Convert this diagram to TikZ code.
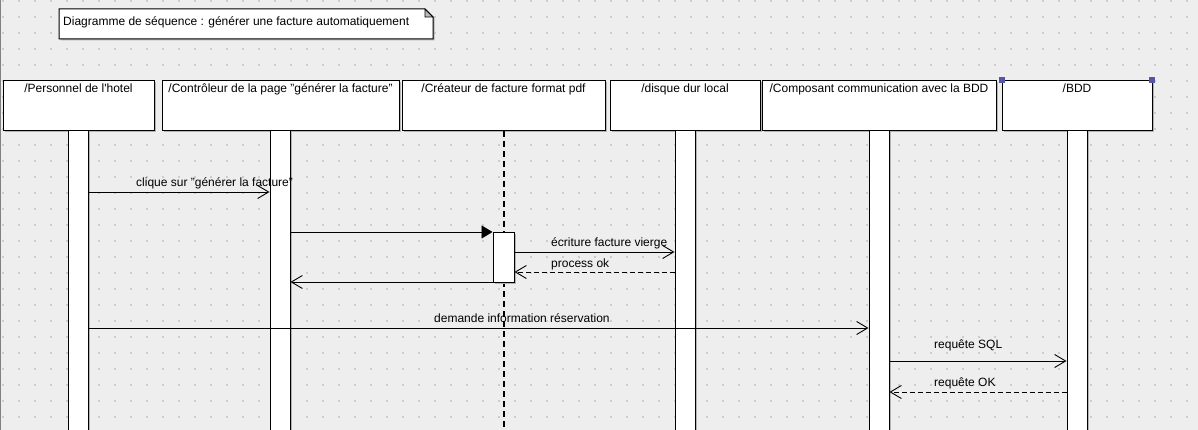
\documentclass[tikz,border=0pt]{standalone}
\usepackage{fontspec}
\setmainfont{Liberation Sans}
\usetikzlibrary{arrows.meta,shadows}
\definecolor{bg}{HTML}{EEEEEE}
\definecolor{dotc}{HTML}{CCCCCC}
\definecolor{handle}{HTML}{5656A8}
\definecolor{foldc}{HTML}{BBBBBB}
\definecolor{shadc}{HTML}{B4B4B4}
\begin{document}
\begin{tikzpicture}[x=1pt,y=-1pt,
  font=\fontsize{12}{14}\selectfont,
  shad/.style={drop shadow={shadow xshift=1.5pt,shadow yshift=-1.5pt,fill=shadc,opacity=1}},
  head/.style={draw,fill=white,line width=1pt,inner sep=0pt,minimum height=50pt,anchor=north west,shad},
  bar/.style={draw,fill=white,line width=1pt,inner sep=0pt,minimum width=20pt,minimum height=304pt,anchor=north,shad},
  act/.style={draw,fill=white,line width=1pt,inner sep=0pt,minimum width=21pt,minimum height=50pt,anchor=north,shad},
  htext/.style={anchor=base,inner sep=0pt},
  lbl/.style={anchor=base west,inner sep=0pt},
  msg/.style={line width=0.9pt,-{Straight Barb[length=11pt,width=13pt,line width=0.9pt]}},
  ret/.style={msg,dash pattern=on 5pt off 3pt},
  sync/.style={line width=0.9pt,-{Triangle[length=11pt,width=13pt]}},
  lifedash/.style={line width=1.3pt,dash pattern=on 6pt off 4pt}
]
% background
\fill[bg] (0,0) rectangle (1198,430);
\useasboundingbox (0,0) rectangle (1198,430);
\foreach \gx in {3,19,...,1198}{
  \foreach \gy in {1,17,...,430}{
    \fill[dotc] (\gx-1,\gy-1) rectangle (\gx+1,\gy+1);
  }
}
\draw[gray,line width=1pt] (0.5,0) -- (0.5,430);

% note
\draw[fill=white,line width=1pt,shad] (59,9) -- (425,9) -- (433,17) -- (433,39) -- (59,39) -- cycle;
\filldraw[fill=foldc,draw=black,line width=0.6pt] (425,9) -- (425,17) -- (433,17) -- cycle;
\draw[line width=1pt] (425,9) -- (433,17);
\node[lbl] (note) at (63,26) {Diagramme de séquence : générer une facture automatiquement};

\coordinate (bottom) at (0,434);

% lifeline heads
\node[head,minimum width=151pt] (h1) at (3,80) {};
\node[head,minimum width=237pt] (h2) at (162,80) {};
\node[head,minimum width=203pt] (h3) at (402,80) {};
\node[head,minimum width=150pt] (h4) at (610,80) {};
\node[head,minimum width=234pt] (h5) at (762,80) {};
\node[head,minimum width=150pt] (h6) at (1002,80) {};

\node[htext] (t1) at (78.5,93) {/Personnel de l\textquotesingle hotel};
\node[htext] (t2) at (280.5,93) {/Contrôleur de la page "générer la facture"};
\node[htext] (t3) at (503.5,93) {/Créateur de facture format pdf};
\node[htext] (t4) at (685,93) {/disque dur local};
\node[htext] (t5) at (879,93) {/Composant communication avec la BDD};
\node[htext] (t6) at (1077,93) {/BDD};

% selection handles
\fill[handle] (999,77) rectangle (1005,83);
\fill[handle] (1149,77) rectangle (1155,83);

% lifelines
\node[bar] (b1) at (78,130) {};
\node[bar] (b2) at (280,130) {};
\draw[lifedash] (h3.south) -- (h3.south |- bottom);
\node[bar] (b4) at (685,130) {};
\node[bar] (b5) at (879,130) {};
\node[bar] (b6) at (1077,130) {};
\node[act] (a3) at (503.5,232) {};

% message levels
\coordinate (y1) at (0,192);
\coordinate (y2) at (0,232);
\coordinate (y3) at (0,252);
\coordinate (y4) at (0,272);
\coordinate (y5) at (0,282);
\coordinate (y6) at (0,328);
\coordinate (y7) at (0,361);
\coordinate (y8) at (0,392);

\draw[msg] (b1.east |- y1) -- (b2.west |- y1);
\node[lbl] (l1) at (136,187) {clique sur "générer la facture"};

\draw[sync] (b2.east |- y2) -- (a3.west |- y2);

\draw[msg] (a3.east |- y3) -- (b4.west |- y3);
\node[lbl] (l3) at (551,247) {écriture facture vierge};

\draw[ret] (b4.west |- y4) -- (a3.east |- y4);
\node[lbl] (l4) at (551,267) {process ok};

\draw[msg] (a3.west |- y5) -- (b2.east |- y5);

\draw[msg] (b1.east |- y6) -- (b5.west |- y6);
\node[lbl] (l6) at (434,322) {demande information réservation};

\draw[msg] (b5.east |- y7) -- (b6.west |- y7);
\node[lbl] (l7) at (934,348) {requête SQL};

\draw[ret] (b6.west |- y8) -- (b5.east |- y8);
\node[lbl] (l8) at (934,386) {requête OK};
\end{tikzpicture}
\end{document}
